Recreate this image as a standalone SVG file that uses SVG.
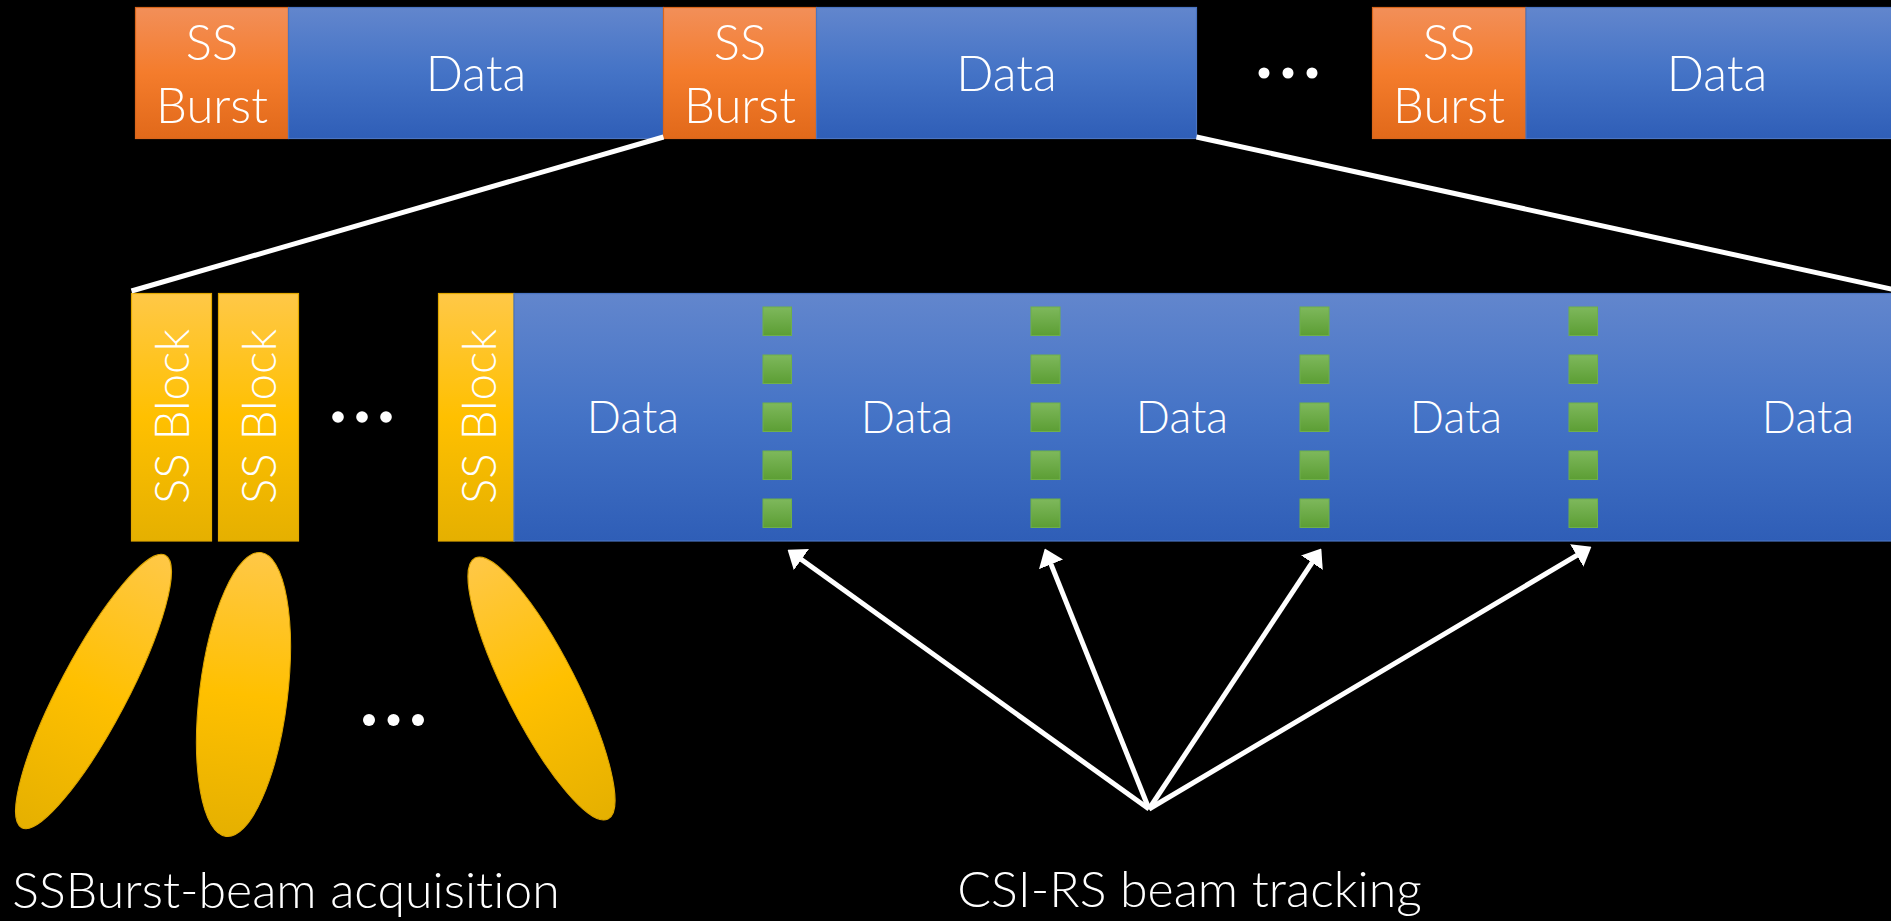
<svg xmlns="http://www.w3.org/2000/svg" width="1891" height="921" viewBox="0 0 1891 921">
  <defs>
    <linearGradient id="gOrange" x1="0" y1="0" x2="0" y2="1">
      <stop offset="0" stop-color="#F28F59"/>
      <stop offset="0.5" stop-color="#F47C2C"/>
      <stop offset="1" stop-color="#E1691A"/>
    </linearGradient>
    <linearGradient id="gBlue" x1="0" y1="0" x2="0" y2="1">
      <stop offset="0" stop-color="#6286CD"/>
      <stop offset="0.5" stop-color="#4473C6"/>
      <stop offset="1" stop-color="#2F5EB7"/>
    </linearGradient>
    <linearGradient id="gGold" x1="0" y1="0" x2="0" y2="1">
      <stop offset="0" stop-color="#FFC847"/>
      <stop offset="0.5" stop-color="#FFC000"/>
      <stop offset="1" stop-color="#E5B000"/>
    </linearGradient>
    <linearGradient id="gGreen" x1="0" y1="0" x2="0" y2="1">
      <stop offset="0" stop-color="#7EB85C"/>
      <stop offset="1" stop-color="#5C9E34"/>
    </linearGradient>
    <marker id="head" markerUnits="userSpaceOnUse" viewBox="0 0 17 26" markerWidth="17" markerHeight="26" refX="0.5" refY="13" orient="auto">
      <path d="M0,0 L17,13 L0,26 Z" fill="#FFFFFF"/>
    </marker>
    <style>
      .lbl { font-family: "Lato", "Open Sans", "DejaVu Sans", sans-serif; font-weight: 300; fill: #FFFFFF; text-anchor: middle; font-variant-ligatures: none; }
      .ss { fill: url(#gOrange); stroke: #D9661C; stroke-width: 1.2; }
      .data { fill: url(#gBlue); stroke: #4A74C2; stroke-width: 1.2; }
      .blk { fill: url(#gGold); stroke: #E2A800; stroke-width: 1.2; }
      .rs { fill: url(#gGreen); stroke: #6FAF4A; stroke-width: 1; }
      .beam { fill: url(#gGold); stroke: #DDA600; stroke-width: 1; }
      .dot { fill: #FFFFFF; }
      .zoom { stroke: #FFFFFF; stroke-width: 5; fill: none; }
      .ptr { stroke: #FFFFFF; stroke-width: 5; fill: none; marker-end: url(#head); }
    </style>
  </defs>

  <rect x="0" y="0" width="1891" height="921" fill="#000000"/>

  <!-- Frame timeline -->
  <g id="ss-burst-1">
    <rect class="ss" x="135.5" y="7.5" width="153" height="131"/>
    <text class="lbl" x="212" y="59.5" font-size="49">SS</text>
    <text class="lbl" x="212" y="122.5" font-size="49">Burst</text>
  </g>
  <g id="data-1">
    <rect class="data" x="288.5" y="7.5" width="375" height="131"/>
    <text class="lbl" x="476" y="90.5" font-size="49">Data</text>
  </g>
  <g id="ss-burst-2">
    <rect class="ss" x="663.5" y="7.5" width="153" height="131"/>
    <text class="lbl" x="740" y="59.5" font-size="49">SS</text>
    <text class="lbl" x="740" y="122.5" font-size="49">Burst</text>
  </g>
  <g id="data-2">
    <rect class="data" x="816.5" y="7.5" width="380" height="131"/>
    <text class="lbl" x="1006.5" y="90.5" font-size="49">Data</text>
  </g>
  <g id="frame-ellipsis">
    <circle class="dot" cx="1264" cy="73" r="5.5"/>
    <circle class="dot" cx="1288" cy="73" r="5.5"/>
    <circle class="dot" cx="1312" cy="73" r="5.5"/>
  </g>
  <g id="ss-burst-3">
    <rect class="ss" x="1372.5" y="7.5" width="153.5" height="131"/>
    <text class="lbl" x="1449" y="59.5" font-size="49">SS</text>
    <text class="lbl" x="1449" y="122.5" font-size="49">Burst</text>
  </g>
  <g id="data-3">
    <rect class="data" x="1526" y="7.5" width="384" height="131"/>
    <text class="lbl" x="1717" y="90.5" font-size="49">Data</text>
  </g>

  <!-- Expanded burst period -->
  <g id="ss-block-1">
    <rect class="blk" x="131.5" y="293.5" width="80" height="247.5"/>
    <text class="lbl" font-size="47.5" transform="translate(189,416.5) rotate(-90)">SS Block</text>
  </g>
  <g id="ss-block-2">
    <rect class="blk" x="218.5" y="293.5" width="80" height="247.5"/>
    <text class="lbl" font-size="47.5" transform="translate(275.5,416.5) rotate(-90)">SS Block</text>
  </g>
  <g id="block-ellipsis">
    <circle class="dot" cx="338" cy="417" r="5.8"/>
    <circle class="dot" cx="362" cy="417" r="5.8"/>
    <circle class="dot" cx="386" cy="417" r="5.8"/>
  </g>
  <g id="ss-block-n">
    <rect class="blk" x="438.5" y="293.5" width="75.5" height="247.5"/>
    <text class="lbl" font-size="47.5" transform="translate(495.5,416.5) rotate(-90)">SS Block</text>
  </g>
  <g id="data-period">
    <rect class="data" x="514" y="293.5" width="1400" height="247.5"/>
    <text class="lbl" x="633" y="432.5" font-size="45">Data</text>
    <text class="lbl" x="907" y="432.5" font-size="45">Data</text>
    <text class="lbl" x="1182" y="432.5" font-size="45">Data</text>
    <text class="lbl" x="1456" y="432.5" font-size="45">Data</text>
    <text class="lbl" x="1808" y="432.5" font-size="45">Data</text>
  </g>

  <!-- CSI-RS resources -->
  <g id="csi-rs-1">
    <rect class="rs" x="763" y="307" width="28.5" height="28.5"/>
    <rect class="rs" x="763" y="355" width="28.5" height="28.5"/>
    <rect class="rs" x="763" y="403" width="28.5" height="28.5"/>
    <rect class="rs" x="763" y="451" width="28.5" height="28.5"/>
    <rect class="rs" x="763" y="499" width="28.5" height="28.5"/>
  </g>
  <g id="csi-rs-2">
    <rect class="rs" x="1031" y="307" width="29" height="28.5"/>
    <rect class="rs" x="1031" y="355" width="29" height="28.5"/>
    <rect class="rs" x="1031" y="403" width="29" height="28.5"/>
    <rect class="rs" x="1031" y="451" width="29" height="28.5"/>
    <rect class="rs" x="1031" y="499" width="29" height="28.5"/>
  </g>
  <g id="csi-rs-3">
    <rect class="rs" x="1300" y="307" width="29" height="28.5"/>
    <rect class="rs" x="1300" y="355" width="29" height="28.5"/>
    <rect class="rs" x="1300" y="403" width="29" height="28.5"/>
    <rect class="rs" x="1300" y="451" width="29" height="28.5"/>
    <rect class="rs" x="1300" y="499" width="29" height="28.5"/>
  </g>
  <g id="csi-rs-4">
    <rect class="rs" x="1569" y="307" width="28.5" height="28.5"/>
    <rect class="rs" x="1569" y="355" width="28.5" height="28.5"/>
    <rect class="rs" x="1569" y="403" width="28.5" height="28.5"/>
    <rect class="rs" x="1569" y="451" width="28.5" height="28.5"/>
    <rect class="rs" x="1569" y="499" width="28.5" height="28.5"/>
  </g>

  <!-- SS block beams -->
  <g id="beam-1">
    <ellipse class="beam" cx="0" cy="0" rx="34" ry="154" transform="translate(93.5,691.5) rotate(27.8)"/>
  </g>
  <g id="beam-2">
    <ellipse class="beam" cx="0" cy="0" rx="44" ry="143" transform="translate(243.5,694.5) rotate(7)"/>
  </g>
  <g id="beam-ellipsis">
    <circle class="dot" cx="369" cy="720" r="6"/>
    <circle class="dot" cx="393.5" cy="720" r="6"/>
    <circle class="dot" cx="418" cy="720" r="6"/>
  </g>
  <g id="beam-n">
    <ellipse class="beam" cx="0" cy="0" rx="35" ry="146.5" transform="translate(541.5,688.5) rotate(-27)"/>
  </g>

  <g id="caption-acquisition">
    <text class="lbl" x="286" y="908" font-size="50">SSBurst-beam acquisition</text>
  </g>
  <g id="caption-tracking">
    <text class="lbl" x="1189.5" y="907" font-size="50">CSI-RS beam tracking</text>
  </g>

  <!-- Connectors -->
  <g id="connectors">
    <line class="zoom" x1="663.5" y1="137" x2="131.5" y2="291"/>
    <line class="zoom" x1="1196.5" y1="137" x2="1900" y2="291"/>
    <line class="ptr" x1="1149" y1="809" x2="801" y2="559.3"/>
    <line class="ptr" x1="1149" y1="809" x2="1050.9" y2="563.9"/>
    <line class="ptr" x1="1149" y1="809" x2="1312.2" y2="562.3"/>
    <line class="ptr" x1="1149" y1="809" x2="1577.2" y2="555.2"/>
  </g>
</svg>
